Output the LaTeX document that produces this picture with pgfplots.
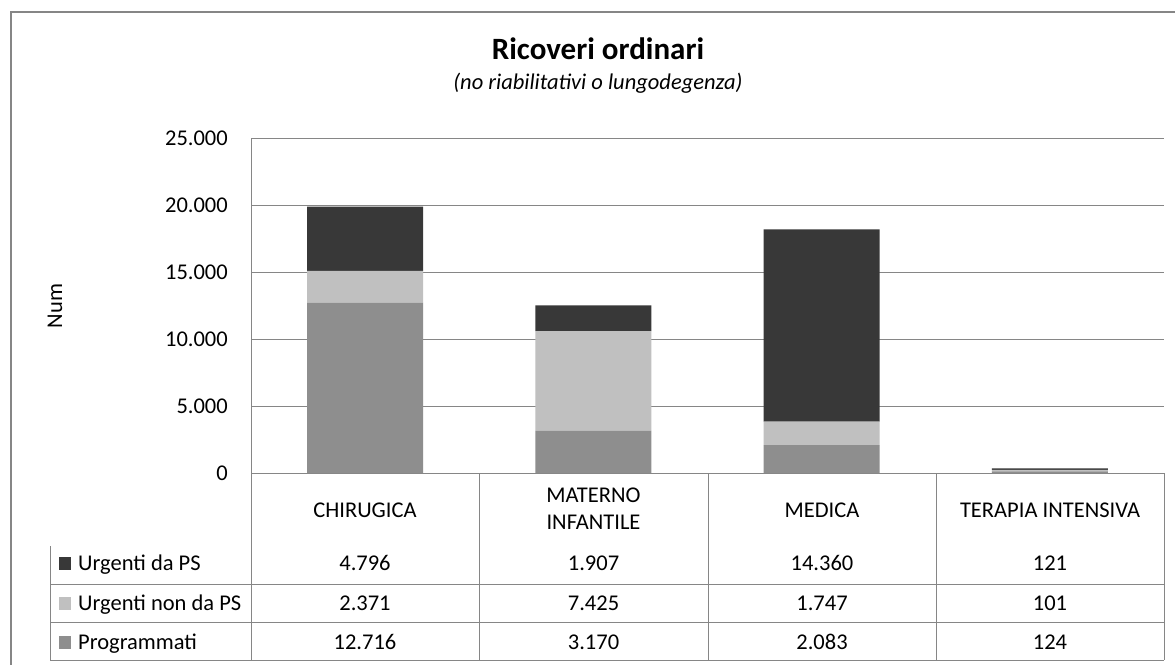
\documentclass[border=0pt]{standalone}
\usepackage{fontspec}
\setmainfont{Carlito}
\usepackage{pgfplots}
\pgfplotsset{compat=1.18}
\definecolor{cdark}{HTML}{383838}
\definecolor{clight}{HTML}{C0C0C0}
\definecolor{cmed}{HTML}{8E8E8E}
\definecolor{cgrid}{HTML}{868686}
\newcommand\bodyf{\fontsize{22.5}{27}\selectfont}
\begin{document}
\begin{tikzpicture}[x=1pt,y=1pt]
\useasboundingbox (0,0) rectangle (1175,-664);
\fill[white] (0,0) rectangle (1175,-664);
\draw[cgrid,line width=1.5pt] (11,-670) -- (11,-12) -- (1180,-12);
\begin{axis}[
  at={(251pt,-473pt)}, anchor=south west,
  scale only axis, width=913pt, height=335pt,
  xmin=-0.5, xmax=3.5, ymin=0, ymax=25000,
  ybar stacked, bar width=116pt,
  xtick=\empty,
  scaled y ticks=false,
  ytick={0,5000,10000,15000,20000,25000},
  yticklabels={0,5.000,10.000,15.000,20.000,25.000},
  ymajorgrids, grid style={cgrid,line width=1pt},
  axis lines*=left, axis line style={cgrid,line width=1pt,-},
  major tick length=0pt,
  yticklabel style={font=\bodyf, inner sep=0pt, xshift=-23pt},
  clip=false,
]
\addplot[fill=cmed,draw=none] coordinates {(0,12716) (1,3170) (2,2083) (3,124)};
\addplot[fill=clight,draw=none] coordinates {(0,2371) (1,7425) (2,1747) (3,101)};
\addplot[fill=cdark,draw=none] coordinates {(0,4796) (1,1907) (2,14360) (3,121)};
\end{axis}
% y label
\node[rotate=90, font=\bodyf, inner sep=0pt] at (55,-306) {Num};
% title
\node[anchor=base, inner sep=0pt, font=\bfseries\fontsize{31}{36}\selectfont] at (598,-59) {Ricoveri ordinari};
\node[anchor=base, inner sep=0pt, font=\itshape\bodyf] at (598,-89) {(no riabilitativi o lungodegenza)};
% table grid
\begin{scope}[cgrid, line width=1pt]
\draw (251,-473) -- (251,-660);
\foreach \x in {479,708,936,1164} {\draw (\x,-473) -- (\x,-660);}
\draw (50,-546) -- (50,-660);
\foreach \y in {584,622,660} {\draw (50,-\y) -- (1164,-\y);}
\end{scope}
% header
\begin{scope}[every node/.style={anchor=base, inner sep=0pt, font=\bodyf}]
\node at (365,-517) {CHIRUGICA};
\node at (593.5,-502) {MATERNO};
\node at (593.5,-529) {INFANTILE};
\node at (822,-517) {MEDICA};
\node at (1050,-517) {TERAPIA INTENSIVA};
% rows
\node at (365,-570) {4.796};
\node at (593.5,-570) {1.907};
\node at (822,-570) {14.360};
\node at (1050,-570) {121};
\node at (365,-610) {2.371};
\node at (593.5,-610) {7.425};
\node at (822,-610) {1.747};
\node at (1050,-610) {101};
\node at (365,-649) {12.716};
\node at (593.5,-649) {3.170};
\node at (822,-649) {2.083};
\node at (1050,-649) {124};
\end{scope}
% legend column
\fill[cdark] (59,-570) rectangle (71,-557);
\fill[clight] (59,-610) rectangle (71,-597);
\fill[cmed] (59,-649) rectangle (71,-636);
\begin{scope}[every node/.style={anchor=base west, inner sep=0pt, font=\bodyf}]
\node at (78,-570) {Urgenti da PS};
\node at (78,-610) {Urgenti non da PS};
\node at (78,-649) {Programmati};
\end{scope}
\end{tikzpicture}
\end{document}
